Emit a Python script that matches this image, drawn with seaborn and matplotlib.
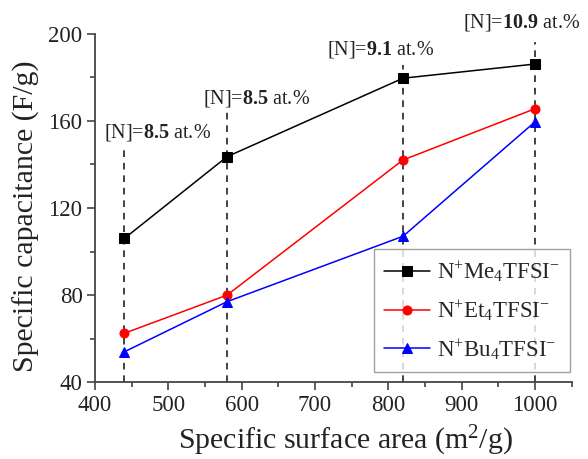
import numpy as np
import pandas as pd
import matplotlib
matplotlib.use('Agg')
import matplotlib.pyplot as plt
from matplotlib.ticker import MultipleLocator
import seaborn as sns

# === Data ===
surface_area = [440, 580, 820, 1000]
cap_me4 = [106, 143.5, 179.5, 186]
cap_et4 = [62.5, 80, 142, 165.5]
cap_bu4 = [54, 77, 107, 159.5]
n_content = ['8.5', '8.5', '9.1', '10.9']
dash_tops = [149, 164, 185.5, 196]
label_pos = [(485, 154.5), (620, 170), (789, 192.5), (981, 205)]

series_names = [r'N$^{+}$Me$_{4}$TFSI$^{-}$', r'N$^{+}$Et$_{4}$TFSI$^{-}$', r'N$^{+}$Bu$_{4}$TFSI$^{-}$']
series_vals = [cap_me4, cap_et4, cap_bu4]
colors = ['black', 'red', 'blue']
markers = ['s', 'o', '^']

# === Style ===
sns.set_style('ticks')
plt.rcParams['font.family'] = ['Liberation Serif', 'DejaVu Serif']
plt.rcParams['mathtext.fontset'] = 'custom'
plt.rcParams['mathtext.rm'] = 'Liberation Serif'
plt.rcParams['mathtext.it'] = 'Liberation Serif'
plt.rcParams['mathtext.bf'] = 'Liberation Serif:bold'

fig = plt.figure(figsize=(5.88, 4.59), dpi=100)
ax = fig.add_axes([0.1616, 0.167, 0.8107, 0.760])

# dashed guide lines
for x, top in zip(surface_area, dash_tops):
    ax.plot([x, x], [40, top], ls=(0, (4, 3.5)), color='#222222', lw=1.2, zorder=1)

for name, vals, c, m in zip(series_names, series_vals, colors, markers):
    df = pd.DataFrame({'x': surface_area, 'y': vals})
    sns.lineplot(data=df, x='x', y='y', ax=ax, color=c, marker=m, markersize=6.5,
                 markeredgecolor=c, lw=1.1, label=name, zorder=3)

for (tx, ty), n in zip(label_pos, n_content):
    ax.text(tx, ty, r'[N]=$\mathbf{' + n + r'}$ at.%', ha='center', va='center',
            fontsize=14.5, color='#222222', clip_on=False)

ax.set_xlim(400, 1050)
ax.set_ylim(40, 200)
ax.xaxis.set_major_locator(MultipleLocator(100))
ax.xaxis.set_minor_locator(MultipleLocator(50))
ax.yaxis.set_major_locator(MultipleLocator(40))
ax.yaxis.set_minor_locator(MultipleLocator(20))
ax.tick_params(which='major', direction='out', length=6, width=1.2, labelsize=16.5,
               colors='#444444', labelcolor='#222222', pad=3)
ax.tick_params(which='minor', direction='out', length=3.5, width=1.2, colors='#444444')
sns.despine(ax=ax)
for s in ['left', 'bottom']:
    ax.spines[s].set_color('#444444')
    ax.spines[s].set_linewidth(1.3)

ax.set_xlabel(r'Specific surface area (m$^{2}$/g)', fontsize=21.5, color='#222222', labelpad=6)
ax.set_ylabel('Specific capacitance (F/g)', fontsize=21.5, color='#222222', labelpad=6)
ax.xaxis.label.set_x(0.525)
ax.yaxis.label.set_y(0.477)

leg = ax.legend(loc='lower right', bbox_to_anchor=(0.997, 0.03), borderaxespad=0,
                fontsize=16.5, frameon=True, fancybox=False, edgecolor='#888888',
                handlelength=2.0, borderpad=0.45, labelspacing=0.6, handletextpad=0.3)
leg.get_frame().set_linewidth(1.0)

plt.savefig('out.png', dpi=100)
